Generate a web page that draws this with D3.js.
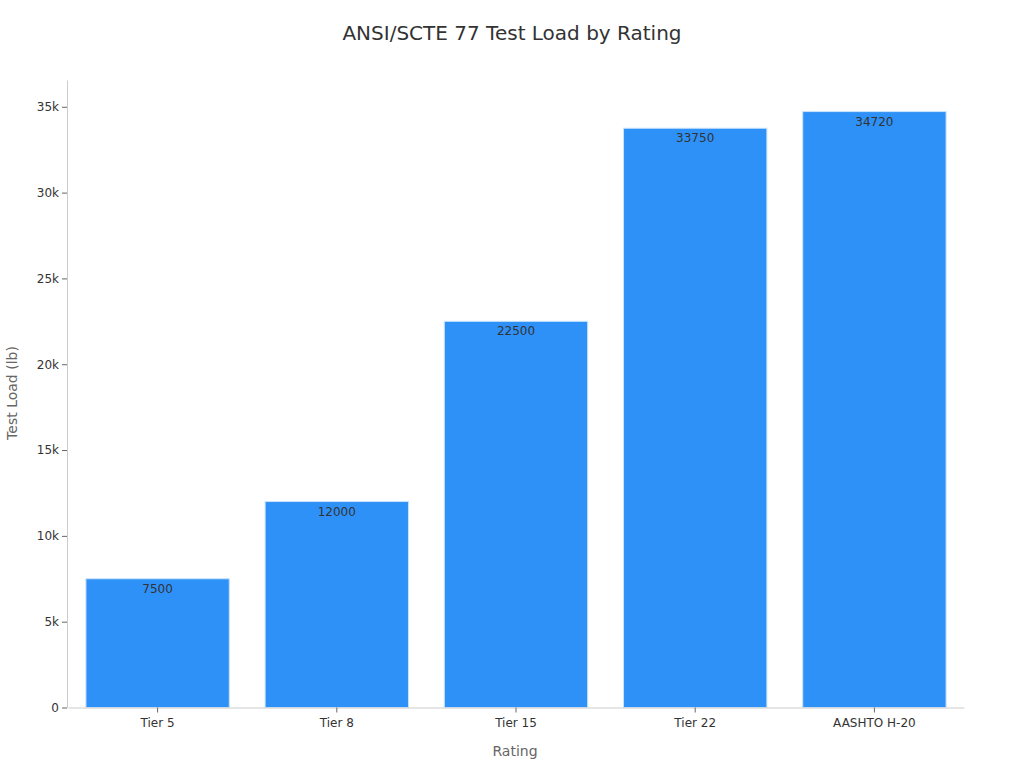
<!DOCTYPE html>
<html><head><meta charset="utf-8">
<script src="https://cdn.jsdelivr.net/npm/d3@7"></script>
<style>body{margin:0;background:#fff;font-family:"DejaVu Sans",sans-serif;}</style>
</head><body><svg id="c" width="1024" height="768"></svg>
<script>
const categories = ["Tier 5","Tier 8","Tier 15","Tier 22","AASHTO H-20"];
const values = [7500,12000,22500,33750,34720];
const yTicks = [0,5000,10000,15000,20000,25000,30000,35000];
const yTickLabels = ["0","5k","10k","15k","20k","25k","30k","35k"];

const svg = d3.select("#c");
const mLeft = 67, mRight = 963, mTop = 80, mBottom = 707.5;
const x = d3.scaleBand().domain(categories).range([mLeft+1,mRight+1]).paddingInner(0.2).paddingOuter(0.1);
const y = d3.scaleLinear().domain([0,36560]).range([mBottom,mTop]);

svg.append("text").attr("x",512).attr("y",40).attr("text-anchor","middle")
  .attr("font-size",20).attr("fill","#333").text("ANSI/SCTE 77 Test Load by Rating");

svg.append("g").selectAll("rect").data(values).join("rect")
  .attr("x",(d,i)=>x(categories[i])).attr("width",x.bandwidth())
  .attr("y",d=>y(d)).attr("height",d=>mBottom-y(d))
  .attr("fill","#2e91f8").attr("stroke","#c8e2fc").attr("stroke-width",1);

svg.append("g").selectAll("text").data(values).join("text")
  .attr("x",(d,i)=>x(categories[i])+x.bandwidth()/2).attr("y",d=>y(d)+14)
  .attr("text-anchor","middle").attr("font-size",12).attr("fill","#333").text(d=>d);

const ya = svg.append("g").attr("transform",`translate(${mLeft},0)`)
  .call(d3.axisLeft(y).tickValues(yTicks).tickFormat((d,i)=>yTickLabels[i]).tickSize(5).tickSizeOuter(0));
ya.select(".domain").attr("stroke","#ccc");
ya.selectAll(".tick line").attr("stroke","#666");
ya.selectAll(".tick text").attr("font-size",12).attr("fill","#333").attr("font-family","DejaVu Sans");

const xa = svg.append("g").attr("transform",`translate(0,${mBottom})`)
  .call(d3.axisBottom(x).tickSize(5).tickSizeOuter(0));
xa.select(".domain").attr("stroke","#ccc");
xa.selectAll(".tick line").attr("stroke","#666");
xa.selectAll(".tick text").attr("font-size",12).attr("fill","#333").attr("font-family","DejaVu Sans").attr("dy","0.95em");

svg.append("text").attr("x",(mLeft+mRight)/2).attr("y",756).attr("text-anchor","middle")
  .attr("font-size",14).attr("fill","#666").text("Rating");
svg.append("text").attr("transform",`translate(17,393) rotate(-90)`).attr("text-anchor","middle")
  .attr("font-size",14).attr("fill","#666").text("Test Load (lb)");
</script></body></html>
